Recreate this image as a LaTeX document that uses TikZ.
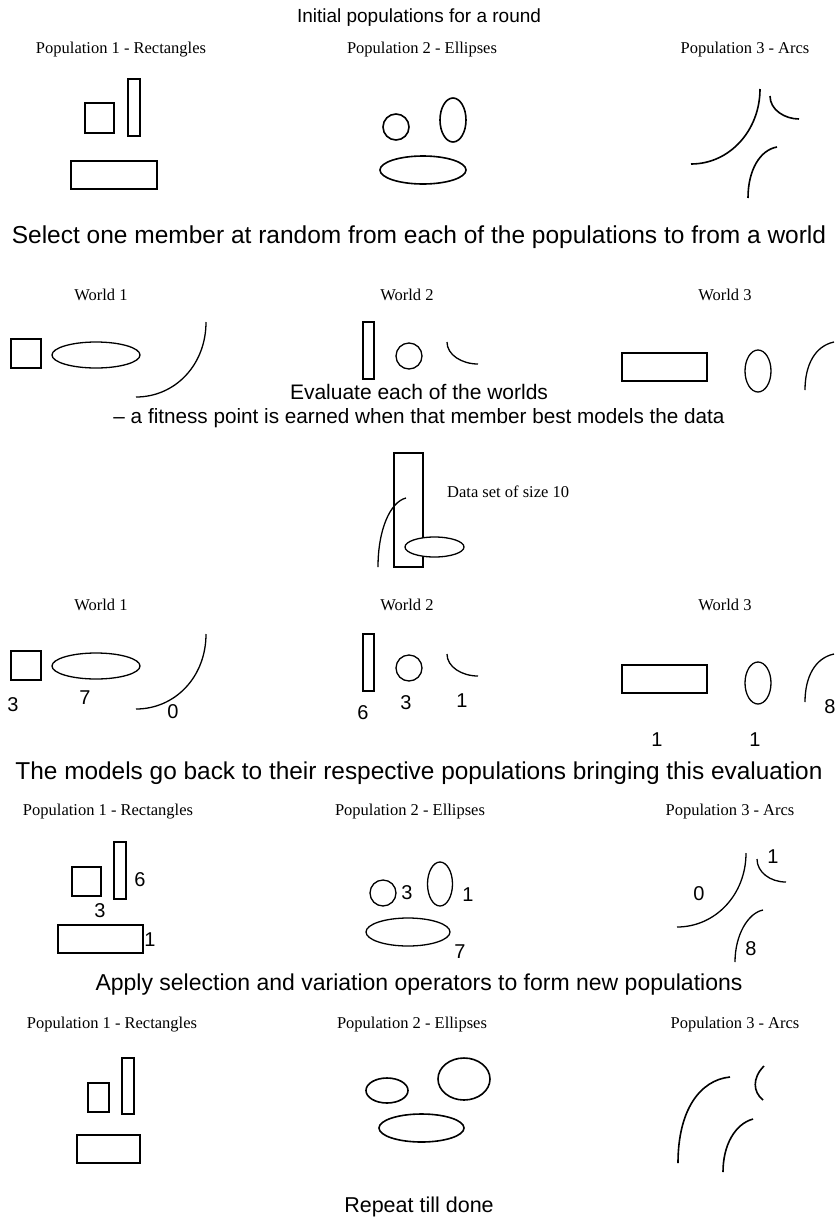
\documentclass[tikz,border=0pt]{standalone}
\usepackage{fontspec}
\setmainfont{Liberation Serif}
\setsansfont{Liberation Sans}
\usepackage{tikz}
\usetikzlibrary{positioning,calc}

\begin{document}
\begin{tikzpicture}[
    x=1pt, y=-1pt,
    caption/.style={font=\sffamily\fontsize{#1}{#1}\selectfont, inner sep=0pt},
    caption/.default=21,
    poplabel/.style={font=\fontsize{16.5}{18}\selectfont, inner sep=0pt},
    score/.style={font=\sffamily\fontsize{20}{24}\selectfont, inner sep=0pt},
    outline/.style={line width=1.6pt},
    thin/.style={line width=1.3pt}
]
    \useasboundingbox (0,0) rectangle (837,1224);

    % initial populations
    \node[caption=19] (title) at (419,18) {Initial populations for a round};
    \node[poplabel] (popA1) at (121,50) {Population 1 - Rectangles};
    \node[poplabel] (popB1) at (422,50) {Population 2 - Ellipses};
    \node[poplabel] (popC1) at (745,50) {Population 3 - Arcs};
    \draw[outline] (85,103) rectangle (114,133);
    \draw[outline] (128,79) rectangle (140,136);
    \draw[outline] (71,161) rectangle (157,189);
    \draw[outline] (396,127) ellipse (13pt and 13pt);
    \draw[outline] (453,120) ellipse (13pt and 22pt);
    \draw[outline] (423,170) ellipse (43pt and 14pt);
    \draw[outline] (760,89) .. controls (760,130) and (730,164) .. (691,164);
    \draw[outline] (770,96) .. controls (770,110) and (785,119) .. (799,119);
    \draw[outline] (777,147) .. controls (760,150) and (748,170) .. (748,198);

    \node[caption=24.5] (select) at (419,237) {Select one member at random from each of the populations to from a world};

    % worlds
    \node[poplabel] (worldA1) at (101,295) {World 1};
    \node[poplabel] (worldB1) at (407,295) {World 2};
    \node[poplabel] (worldC1) at (725,295) {World 3};
    \draw[thin] (11,339) rectangle (41,368);
    \draw[thin] (96,355) ellipse (44pt and 13pt);
    \draw[thin] (206,322) .. controls (206,365) and (175,397) .. (136,397);
    \draw[thin] (363,322) rectangle (374,379);
    \draw[thin] (409,356) ellipse (13pt and 13pt);
    \draw[thin] (447,342) .. controls (447,355) and (462,364) .. (478,364);
    \draw[thin] (622,353) rectangle (707,381);
    \draw[thin] (758,371) ellipse (13pt and 21pt);
    \draw[thin] (834,342) .. controls (815,346) and (805,365) .. (805,390);

    \node[caption] (evaluate) at (419,392) {Evaluate each of the worlds};
    \node[caption=20.7] (fitness) at (419,418) {-- a fitness point is earned when that member best models the data};

    % data set
    \draw[thin] (394,453) rectangle (423,567);
    \draw[thin] (406,498) .. controls (390,502) and (378,530) .. (378,567);
    \draw[thin, fill=white] (434.5,547) ellipse (29.5pt and 10pt);
    \node[poplabel, anchor=west] (data) at (447,492) {Data set of size 10};

    % evaluated worlds
    \node[poplabel] (worldA2) at (101,605) {World 1};
    \node[poplabel] (worldB2) at (407,605) {World 2};
    \node[poplabel] (worldC2) at (725,605) {World 3};
    \draw[thin] (11,651) rectangle (41,680);
    \draw[thin] (96,666) ellipse (44pt and 13pt);
    \draw[thin] (206,634) .. controls (206,677) and (175,709) .. (136,709);
    \draw[thin] (363,634) rectangle (374,691);
    \draw[thin] (409,668) ellipse (13pt and 13pt);
    \draw[thin] (447,654) .. controls (447,667) and (462,676) .. (478,676);
    \draw[thin] (622,665) rectangle (707,693);
    \draw[thin] (758,683) ellipse (13pt and 21pt);
    \draw[thin] (834,654) .. controls (815,658) and (805,677) .. (805,702);
    \node[score] (scA1) at (13,705) {3};
    \node[score] (scA2) at (85,698) {7};
    \node[score] (scA3) at (173,712) {0};
    \node[score] (scB1) at (363,713) {6};
    \node[score] (scB2) at (406,703) {3};
    \node[score] (scB3) at (462,701) {1};
    \node[score] (scC1) at (657,740) {1};
    \node[score] (scC2) at (755,740) {1};
    \node[score] (scC3) at (830,707) {8};

    \node[caption=24.4] (back) at (419,773) {The models go back to their respective populations bringing this evaluation};

    % populations with scores
    \node[poplabel] (popA2) at (108,812) {Population 1 - Rectangles};
    \node[poplabel] (popB2) at (410,812) {Population 2 - Ellipses};
    \node[poplabel] (popC2) at (730,812) {Population 3 - Arcs};
    \draw[thin] (72,867) rectangle (101,896);
    \draw[thin] (114,842) rectangle (126,899);
    \draw[thin] (58,925) rectangle (143,953);
    \node[score] (ptA1) at (140,880) {6};
    \node[score] (ptA2) at (100,911) {3};
    \node[score] (ptA3) at (150,940) {1};
    \draw[thin] (383,893) ellipse (13pt and 13pt);
    \draw[thin] (440,884) ellipse (12.5pt and 22pt);
    \draw[thin] (408,932) ellipse (42pt and 14pt);
    \node[score] (ptB1) at (407,893) {3};
    \node[score] (ptB2) at (468,895) {1};
    \node[score] (ptB3) at (460,952) {7};
    \draw[thin] (746,853) .. controls (746,895) and (715,927) .. (677,927);
    \draw[thin] (757,859) .. controls (757,872) and (770,882) .. (786,882);
    \draw[thin] (763,910) .. controls (748,913) and (735,935) .. (735,962);
    \node[score] (ptC1) at (699,894) {0};
    \node[score] (ptC2) at (773,857) {1};
    \node[score] (ptC3) at (751,949) {8};

    \node[caption=23] (apply) at (419,985) {Apply selection and variation operators to form new populations};

    % new populations
    \node[poplabel] (popA3) at (112,1025) {Population 1 - Rectangles};
    \node[poplabel] (popB3) at (412,1025) {Population 2 - Ellipses};
    \node[poplabel] (popC3) at (735,1025) {Population 3 - Arcs};
    \draw[outline] (88,1083) rectangle (109,1112);
    \draw[outline] (122,1058) rectangle (134,1114);
    \draw[outline] (77,1135) rectangle (140,1163);
    \draw[outline] (387,1090.5) ellipse (21pt and 12.5pt);
    \draw[outline] (464,1079) ellipse (26pt and 21pt);
    \draw[outline] (421.5,1128) ellipse (42.5pt and 14pt);
    \draw[outline] (730,1077) .. controls (700,1080) and (678,1110) .. (678,1163);
    \draw[outline] (764,1066) .. controls (752,1078) and (753,1092) .. (763,1100);
    \draw[outline] (753,1119) .. controls (735,1124) and (723,1145) .. (723,1172);

    \node[caption=21.5] (repeat) at (419,1207) {Repeat till done};

\end{tikzpicture}
\end{document}
